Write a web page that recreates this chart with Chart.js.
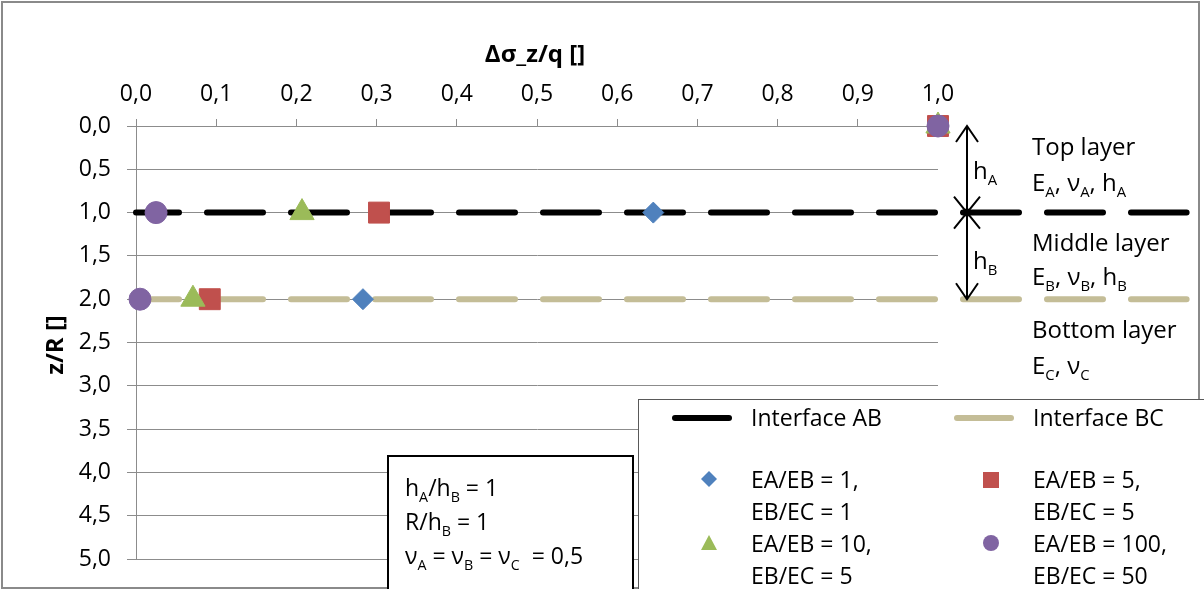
<!DOCTYPE html>
<html>
<head>
<meta charset="utf-8">
<script src="https://cdn.jsdelivr.net/npm/chart.js@4"></script>
<style>
body { margin: 0; background: #fff; }
#wrap { position: relative; width: 1204px; height: 589px; overflow: hidden; font-family: 'Open Sans', sans-serif; color: #000; }
#frame { position: absolute; left: 1px; top: 1px; width: 1195px; height: 584px; border: 2px solid #8a8a8a; }
canvas { position: absolute; left: 0; top: 0; }
.t { position: absolute; white-space: nowrap; line-height: 1; transform: translateY(-50%); font-size: 23px; }
.big { font-size: 24px; }
.s { font-size: 62%; position: relative; top: 0.4em; }
.title { position: absolute; font-weight: bold; font-size: 24px; line-height: 1; white-space: nowrap; }
#legend { position: absolute; left: 638px; top: 399px; width: 600px; height: 300px; border: 1px solid #595959; background: #fff; }
#note { position: absolute; left: 387px; top: 455px; width: 243px; height: 200px; border: 2px solid #000; background: #fff; }
.sample { position: absolute; width: 60px; height: 6px; border-radius: 3px; transform: translateY(-50%); }
.mk { position: absolute; }
</style>
</head>
<body>
<div id="wrap">
  <canvas id="c" width="1204" height="589"></canvas>
  <div id="frame"></div>
  <div id="legend"></div>
  <div id="note"></div>

  <div class="title" style="left:535px;top:53px;transform:translate(-50%,-50%);">Δσ_z/q []</div>
  <div class="title" style="left:54px;top:345px;transform:translate(-50%,-50%) rotate(-90deg);">z/R []</div>

  <div class="t big" style="left:973px;top:170px;">h<span class="s">A</span></div>
  <div class="t big" style="left:973px;top:260px;">h<span class="s">B</span></div>
  <div class="t big" style="left:1032px;top:146px;">Top layer</div>
  <div class="t big" style="left:1032px;top:182px;">E<span class="s">A</span>, ν<span class="s">A</span>, h<span class="s">A</span></div>
  <div class="t big" style="left:1032px;top:242px;">Middle layer</div>
  <div class="t big" style="left:1032px;top:276px;">E<span class="s">B</span>, ν<span class="s">B</span>, h<span class="s">B</span></div>
  <div class="t big" style="left:1032px;top:329px;">Bottom layer</div>
  <div class="t big" style="left:1032px;top:365px;">E<span class="s">C</span>, ν<span class="s">C</span></div>

  <div class="sample" style="left:672px;top:418px;background:#000;"></div>
  <div class="t" style="left:751px;top:417px;">Interface AB</div>
  <div class="sample" style="left:954px;top:418px;background:#c4bd97;"></div>
  <div class="t" style="left:1033px;top:417px;">Interface BC</div>

  <svg class="mk" style="left:700px;top:470px;" width="18" height="18"><polygon points="9,1 17,9 9,17 1,9" fill="#4f81bd"/></svg>
  <div class="t" style="left:751px;top:479px;">EA/EB = 1,</div>
  <div class="t" style="left:751px;top:511px;">EB/EC = 1</div>
  <svg class="mk" style="left:982px;top:471px;" width="18" height="18"><rect x="1" y="1" width="16" height="16" fill="#c0504d"/></svg>
  <div class="t" style="left:1033px;top:479px;">EA/EB = 5,</div>
  <div class="t" style="left:1033px;top:511px;">EB/EC = 5</div>
  <svg class="mk" style="left:700px;top:534px;" width="18" height="18"><polygon points="9,1 17,16 1,16" fill="#9bbb59"/></svg>
  <div class="t" style="left:751px;top:543px;">EA/EB = 10,</div>
  <div class="t" style="left:751px;top:575px;">EB/EC = 5</div>
  <svg class="mk" style="left:982px;top:534px;" width="18" height="18"><circle cx="9" cy="9" r="8" fill="#8064a2"/></svg>
  <div class="t" style="left:1033px;top:543px;">EA/EB = 100,</div>
  <div class="t" style="left:1033px;top:575px;">EB/EC = 50</div>

  <div class="t" style="left:405px;top:487px;">h<span class="s">A</span>/h<span class="s">B</span> = 1</div>
  <div class="t" style="left:405px;top:521px;">R/h<span class="s">B</span> = 1</div>
  <div class="t" style="left:405px;top:555px;">ν<span class="s">A</span> = ν<span class="s">B</span> = ν<span class="s">C</span> &nbsp;= 0,5</div>
</div>

<script>
// depth z/R where results are given
const depths = [0, 1, 2];
// Δσ_z/q for each stiffness combination
const ratio1 = [1.0, 0.645, 0.283];    // EA/EB = 1, EB/EC = 1
const ratio5 = [1.0, 0.303, 0.092];    // EA/EB = 5, EB/EC = 5
const ratio10 = [1.0, 0.207, 0.071];   // EA/EB = 10, EB/EC = 5
const ratio100 = [1.0, 0.025, 0.005];  // EA/EB = 100, EB/EC = 50

// interface lines run past the axis into the layer sketch
const interfaceX = [0, 1.31];
const interfaceAB = [1, 1];
const interfaceBC = [2, 2];

// layer boundaries marked with arrows on the right
const layerBounds = [0, 1, 2];

const xTicks = [0, 0.1, 0.2, 0.3, 0.4, 0.5, 0.6, 0.7, 0.8, 0.9, 1.0];
const yTicks = [0, 0.5, 1, 1.5, 2, 2.5, 3, 3.5, 4, 4.5, 5];

const pts = (xs, ys) => xs.map((x, i) => ({ x: x, y: ys[i] }));
const comma = v => Number(v).toFixed(1).replace('.', ',');

const layerArrows = {
    id: 'layerArrows',
    afterDatasetsDraw(chart) {
        const { ctx, chartArea, scales } = chart;
        const ax = chartArea.right + 29;
        const p = layerBounds.map(v => scales.y.getPixelForValue(v));
        ctx.save();
        ctx.strokeStyle = '#000';
        ctx.fillStyle = '#000';
        ctx.lineWidth = 2;
        ctx.beginPath();
        ctx.moveTo(ax, p[0]);
        ctx.lineTo(ax, p[2]);
        const head = (yy, dir, w) => {
            ctx.moveTo(ax - w, yy + dir * 16);
            ctx.lineTo(ax, yy);
            ctx.lineTo(ax + w, yy + dir * 16);
        };
        head(p[0], 1, 11);
        head(p[1], -1, 13);
        head(p[1], 1, 13);
        head(p[2], -1, 11);
        ctx.stroke();
        ctx.beginPath();
        ctx.arc(ax, p[1], 4, 0, Math.PI * 2);
        ctx.fill();
        ctx.restore();
    }
};

const markerSet = (data, color, style, radius, order) => ({
    type: 'scatter',
    data: data,
    showLine: false,
    pointStyle: style,
    pointRadius: radius,
    backgroundColor: color,
    borderColor: color,
    borderWidth: 1,
    clip: false,
    order: order
});

const lineSet = (data, color) => ({
    type: 'line',
    data: data,
    borderColor: color,
    borderWidth: 6,
    borderDash: [56, 28],
    borderDashOffset: 13,
    borderCapStyle: 'round',
    pointRadius: 0,
    fill: false,
    clip: false,
    order: 10
});

new Chart(document.getElementById('c'), {
    type: 'scatter',
    data: {
        datasets: [
            lineSet(pts(interfaceX, interfaceAB), '#000000'),
            lineSet(pts(interfaceX, interfaceBC), '#c4bd97'),
            markerSet(pts(ratio1, depths), '#4f81bd', 'rectRot', 10.5, 4),
            markerSet(pts(ratio5, depths), '#c0504d', 'rect', 14.8, 3),
            markerSet(pts(ratio10, depths), '#9bbb59', 'triangle', 14, 2),
            markerSet(pts(ratio100, depths), '#8064a2', 'circle', 11, 1)
        ]
    },
    options: {
        responsive: false,
        animation: false,
        events: [],
        layout: { padding: { left: 0, top: 0, right: 266, bottom: 30 } },
        plugins: { legend: { display: false }, tooltip: { enabled: false } },
        font: { family: "'Open Sans', sans-serif" },
        scales: {
            x: {
                type: 'linear',
                position: 'top',
                min: 0,
                max: 1,
                afterFit(s) { s.height = 126; },
                afterBuildTicks(s) { s.ticks = xTicks.map(v => ({ value: v })); },
                ticks: {
                    color: '#000',
                    padding: 11,
                    font: { family: "'Open Sans', sans-serif", size: 23 },
                    callback: comma
                },
                grid: { drawOnChartArea: false, drawTicks: true, tickLength: 7, color: '#8c8c8c' },
                border: { display: true, color: '#8c8c8c', width: 1 }
            },
            y: {
                type: 'linear',
                position: 'left',
                reverse: true,
                min: 0,
                max: 5,
                afterFit(s) { s.width = 136; },
                afterBuildTicks(s) { s.ticks = yTicks.map(v => ({ value: v })); },
                ticks: {
                    color: '#000',
                    padding: 16,
                    font: { family: "'Open Sans', sans-serif", size: 23 },
                    callback: comma
                },
                grid: { color: '#8c8c8c', lineWidth: 1, tickLength: 9 },
                border: { display: true, color: '#8c8c8c', width: 1 }
            }
        }
    },
    plugins: [layerArrows]
});
</script>
</body>
</html>
